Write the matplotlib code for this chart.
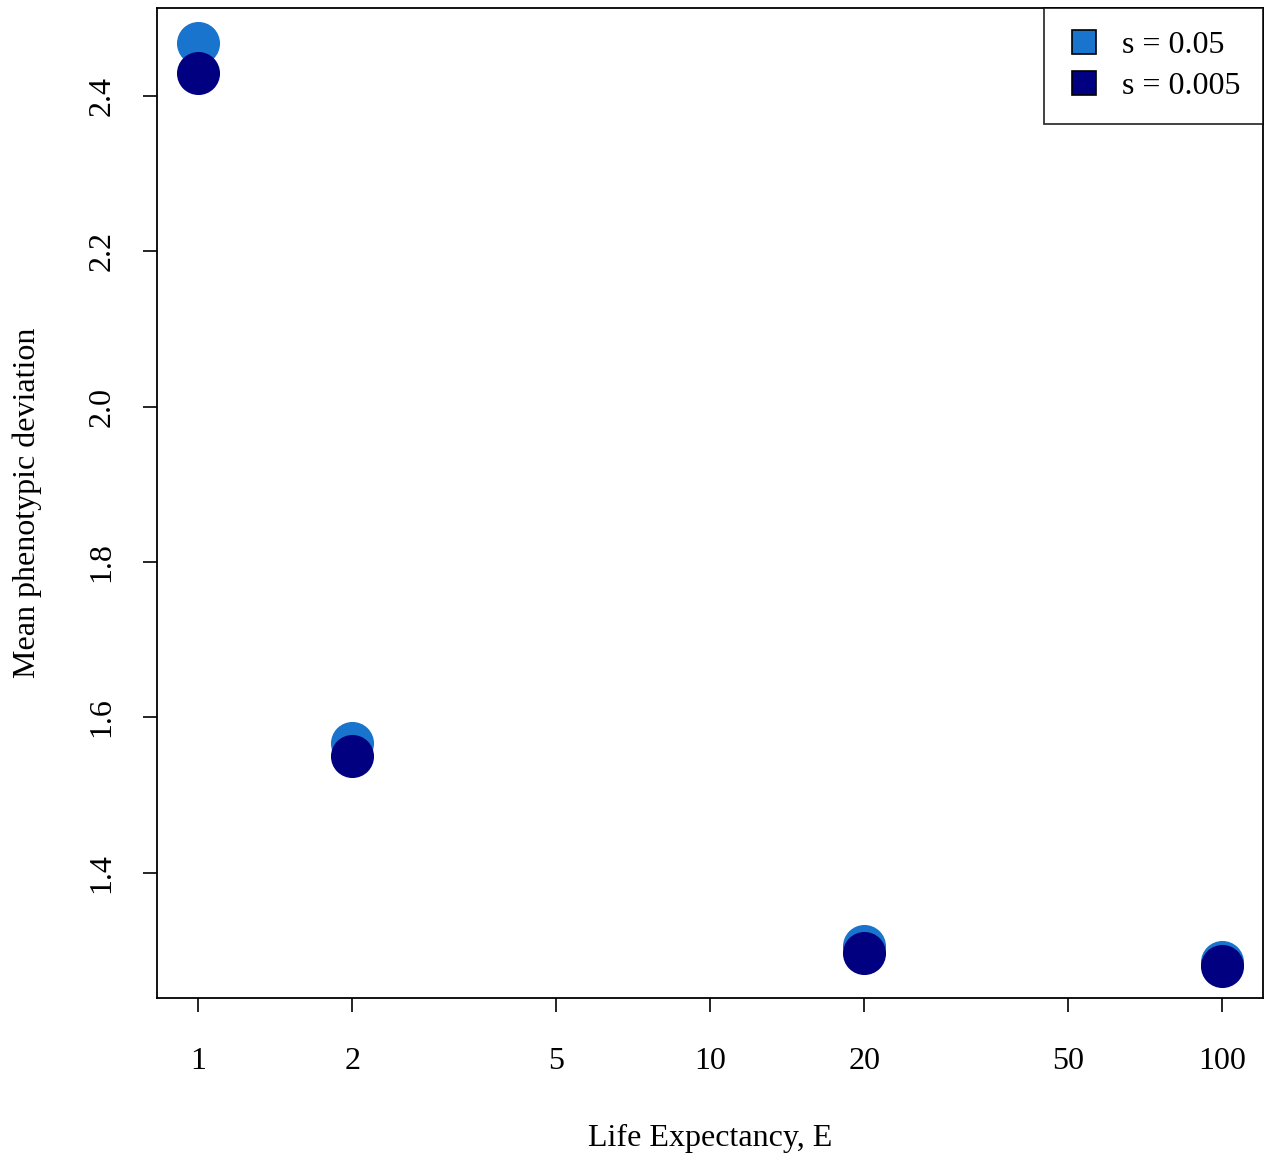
import matplotlib
matplotlib.use("Agg")
import matplotlib.pyplot as plt
from matplotlib.lines import Line2D

plt.rcParams['font.family'] = ['Liberation Serif', 'DejaVu Serif']

life_exp = [1, 2, 20, 100]
dev_s005 = [2.468, 1.567, 1.3055, 1.2855]   # s = 0.05
dev_s0005 = [2.4296, 1.550, 1.297, 1.2797]  # s = 0.005
xticks = [1, 2, 5, 10, 20, 50, 100]
yticks = [1.4, 1.6, 1.8, 2.0, 2.2, 2.4]
labels = ["s = 0.05", "s = 0.005"]
colors = ["#1874CD", "#000080"]

W, H = 1266, 1153
fig = plt.figure(figsize=(W/100, H/100), dpi=100)
ax = fig.add_axes([157/W, 1-998/H, (1263-157)/W, (998-8)/H])

ax.plot(life_exp, dev_s005, 'o', ms=31, color=colors[0], mec='none')
ax.plot(life_exp, dev_s0005, 'o', ms=31, color=colors[1], mec='none')

ax.set_xscale('log')
ax.set_xlim(0.831, 120.3)
ax.set_ylim(1.239, 2.513)
ax.set_xticks(xticks)
ax.set_xticklabels([str(t) for t in xticks])
ax.minorticks_off()
ax.set_yticks(yticks)
ax.set_yticklabels([f"{t:.1f}" for t in yticks], rotation=90, va='center')

ax.tick_params(axis='both', labelsize=23, length=10, width=1.2, direction='out')
ax.tick_params(axis='x', pad=25)
ax.tick_params(axis='y', pad=19)
for s in ax.spines.values():
    s.set_linewidth(1.3)

ax.set_xlabel("Life Expectancy, E", fontsize=23, labelpad=35)
ax.set_ylabel("Mean phenotypic deviation", fontsize=23, labelpad=33)

handles = [Line2D([], [], marker='s', ls='none', ms=17, mfc=c, mec='black', mew=1.2) for c in colors]
leg = ax.legend(handles, labels, loc='upper right', fontsize=23, frameon=True, fancybox=False,
                edgecolor='black', borderpad=0.72, handlelength=1.1, handletextpad=0.62,
                labelspacing=0.35, borderaxespad=0)
leg.get_frame().set_linewidth(1.3)

fig.savefig("out.png", dpi=100)
